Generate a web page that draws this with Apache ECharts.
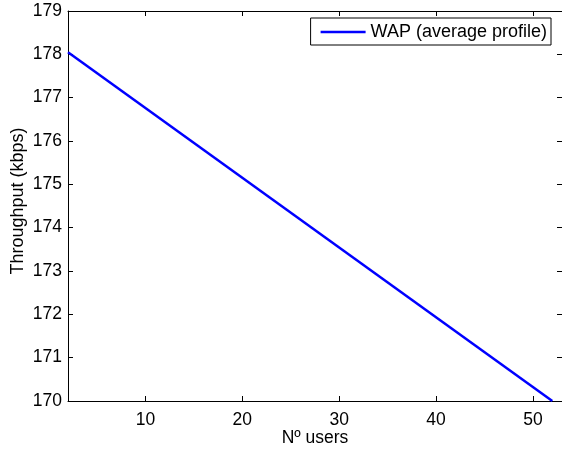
<!DOCTYPE html>
<html><head><meta charset="utf-8">
<script src="https://cdn.jsdelivr.net/npm/echarts@6/dist/echarts.min.js"></script>
<style>html,body{margin:0;padding:0;background:#fff}#c{width:562px;height:450px}</style>
</head><body><div id="c"></div>
<script>
var users = [2, 52];
var throughput = [178.05, 170];
var seriesName = 'WAP (average profile)';
var xTicks = [10, 20, 30, 40, 50];

var font = 'Liberation Sans, Arial, Helvetica, sans-serif';
var fs = 17.5;
var chart = echarts.init(document.getElementById('c'), null, {renderer: 'canvas'});
function tick() { return {show: true, inside: true, length: 5, lineStyle: {color: '#000'}, customValues: xTicks}; }
var line = {show: true, onZero: false, lineStyle: {color: '#000', width: 1}};
chart.setOption({
  animation: false,
  backgroundColor: '#fff',
  grid: {left: 68, top: 11, right: 0, bottom: 49, containLabel: false, outerBoundsMode: 'none'},
  legend: {
    show: true, right: 11, top: 18, orient: 'vertical',
    backgroundColor: '#fff', borderColor: '#000', borderWidth: 1,
    padding: [5, 4, 4, 10], itemWidth: 45, itemHeight: 14, itemGap: 5,
    textStyle: {fontFamily: font, fontSize: 18, color: '#000'},
    data: [{name: seriesName, icon: 'path://M0,5.75 L45,5.75 L45,8.25 L0,8.25 Z'}]
  },
  xAxis: [
    {type: 'value', min: 2, max: 53, position: 'bottom',
      name: 'Nº users', nameLocation: 'middle', nameGap: 28, nameMoveOverlap: false,
      nameTextStyle: {fontFamily: font, fontSize: fs, color: '#000'},
      axisLine: line, axisTick: tick(), splitLine: {show: false},
      axisLabel: {show: true, fontFamily: font, fontSize: fs, color: '#000', margin: 10, customValues: xTicks}},
    {type: 'value', min: 2, max: 53, position: 'top',
      axisLine: line, axisTick: tick(), splitLine: {show: false}, axisLabel: {show: false}}
  ],
  yAxis: [
    {type: 'value', min: 170, max: 179, interval: 1, position: 'left',
      name: 'Throughput (kbps)', nameLocation: 'middle', nameGap: 41, nameMoveOverlap: false,
      nameTextStyle: {fontFamily: font, fontSize: 18, color: '#000', padding: [0, 0, 0, 10]},
      axisLine: line, axisTick: {show: true, inside: true, length: 5, lineStyle: {color: '#000'}},
      splitLine: {show: false},
      axisLabel: {show: true, fontFamily: font, fontSize: fs, color: '#000', margin: 6}},
    {type: 'value', min: 170, max: 179, interval: 1, position: 'right',
      axisLine: line, axisTick: {show: true, inside: true, length: 5, lineStyle: {color: '#000'}},
      splitLine: {show: false}, axisLabel: {show: false}}
  ],
  series: [{
    name: seriesName, type: 'line', xAxisIndex: 0, yAxisIndex: 0,
    data: users.map(function (u, i) { return [u, throughput[i]]; }),
    showSymbol: false, symbol: 'none',
    lineStyle: {color: '#0000ff', width: 2.5},
    itemStyle: {color: '#0000ff'}, clip: true
  }]
});
</script></body></html>
